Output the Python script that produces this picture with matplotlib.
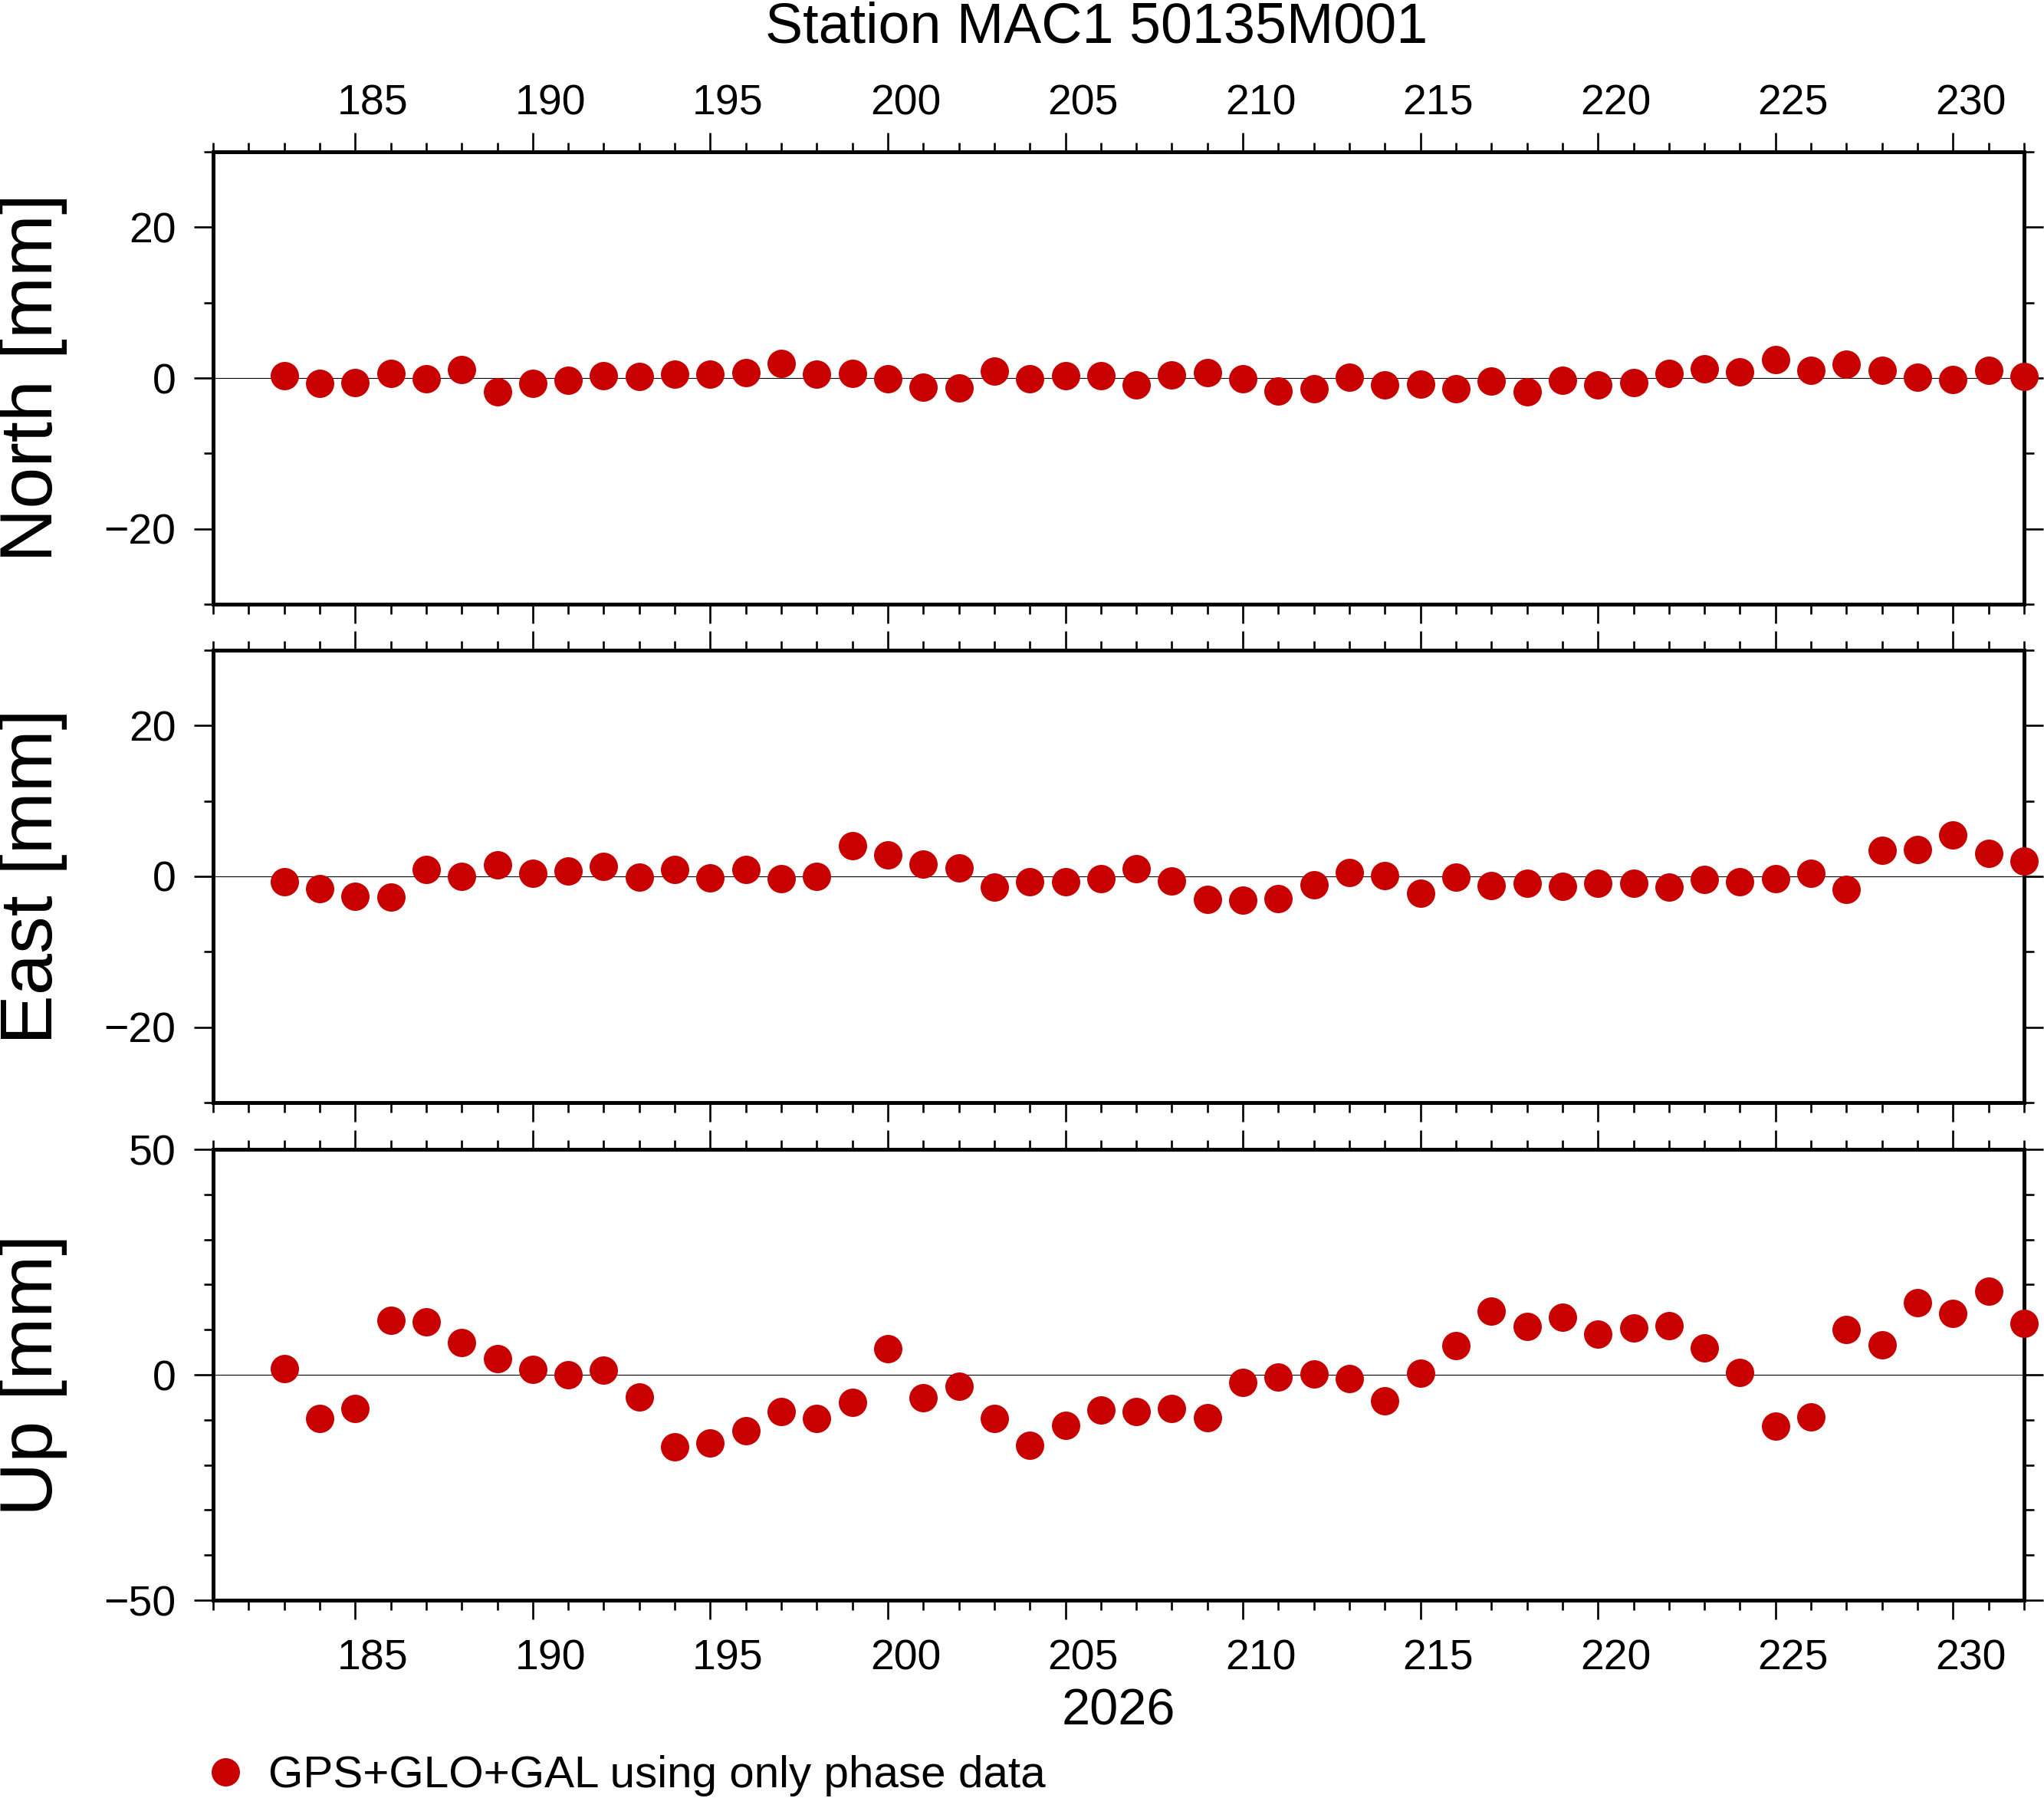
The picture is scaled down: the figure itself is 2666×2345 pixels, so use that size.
import matplotlib
matplotlib.use('Agg')
import matplotlib.pyplot as plt
from matplotlib.ticker import MultipleLocator, NullLocator

plt.rcParams['font.family'] = ['Liberation Sans', 'DejaVu Sans']

# ---------------- data ----------------
days = list(range(183, 233))
north = [0.27, -0.74, -0.64, 0.57, -0.14, 1.08, -1.86, -0.74, -0.34, 0.27,
         0.17, 0.47, 0.47, 0.68, 1.93, 0.47, 0.57, -0.14, -1.25, -1.35,
         0.88, -0.14, 0.27, 0.27,
         -0.95, 0.37, 0.68, -0.14, -1.76, -1.45, 0.07, -0.95, -0.84, -1.45,
         -0.44, -1.86, -0.34, -0.95, -0.64, 0.57, 1.18, 0.78, 2.40, 0.98,
         1.79, 0.98, 0.07, -0.24, 0.98, 0.24]
east = [-0.68, -1.62, -2.60, -2.77, 0.91, 0.00, 1.52, 0.41, 0.71, 1.35,
        -0.15, 0.96, -0.20, 0.96, -0.35, 0.00, 4.05, 2.84, 1.62, 1.11,
        -1.42, -0.71, -0.71, -0.30,
        1.01, -0.61, -3.04, -3.18, -2.97, -1.11, 0.51, 0.10, -2.23, -0.10,
        -1.22, -0.91, -1.32, -0.91, -0.91, -1.42, -0.41, -0.71, -0.30, 0.41,
        -1.72, 3.45, 3.55, 5.47, 3.04, 2.03]
up = [1.41, -9.77, -7.40, 12.09, 11.75, 7.18, 3.56, 1.24, 0.06, 1.07,
      -4.86, -16.05, -15.14, -12.49, -8.08, -9.77, -6.05, 5.82, -5.03, -2.49,
      -9.77, -15.70, -11.30, -7.74,
      -8.08, -7.40, -9.60, -1.64, -0.45, 0.23, -0.79, -5.71, 0.40, 6.50,
      14.12, 10.73, 12.77, 9.04, 10.40, 10.90, 5.99, 0.56, -11.47, -9.43,
      10.06, 6.67, 15.99, 13.62, 18.53, 11.41]

panel_names = ['North [mm]', 'East [mm]', 'Up [mm]']
panel_values = [north, east, up]
panel_limits = [30, 30, 50]
panel_major = [20, 20, 50]
panel_minor = [10, 10, 10]

x_range = (181, 232)
label_days = list(range(185, 231, 5))
year_label = '2026'
title = 'Station MAC1 50135M001'
legend_label = 'GPS+GLO+GAL using only phase data'
RED = '#C80000'

# ---------------- figure ----------------
W, H = 2666, 2345
DPI = 100
fig = plt.figure(figsize=(W / DPI, H / DPI), dpi=DPI)


def px_rect(left, top, right, bottom):
    return [left / W, 1 - bottom / H, (right - left) / W, (bottom - top) / H]


rects = [px_rect(278, 198, 2640, 788),
         px_rect(278, 848, 2640, 1438),
         px_rect(278, 1499, 2640, 2087)]

axes = []
handle = None
for i, (rect, name, vals, lim, maj, mnr) in enumerate(
        zip(rects, panel_names, panel_values, panel_limits, panel_major, panel_minor)):
    ax = fig.add_axes(rect)
    axes.append(ax)
    ax.set_xlim(*x_range)
    ax.set_ylim(-lim, lim)
    ax.axhline(0, color='black', lw=0.8, zorder=1)
    ln, = ax.plot(days, vals, 'o', ms=26.6, color=RED, mew=0,
                  clip_on=False, zorder=3, label=legend_label)
    handle = ln
    ax.xaxis.set_major_locator(MultipleLocator(5))
    ax.xaxis.set_minor_locator(MultipleLocator(1))
    ax.yaxis.set_major_locator(MultipleLocator(maj))
    ax.yaxis.set_minor_locator(MultipleLocator(mnr))
    for sp in ax.spines.values():
        sp.set_linewidth(3.6)
    ax.tick_params(which='both', direction='out', top=True, right=True,
                   bottom=True, left=True, labelbottom=False, labeltop=False,
                   width=1.9)
    ax.tick_params(which='major', length=18)
    ax.tick_params(which='minor', length=9)
    ax.tick_params(axis='y', which='major', labelsize=40, pad=17)
    ax.set_ylabel(name, fontsize=70, va='center')
    ax.yaxis.set_label_coords((43 - 278) / 2362, 0.5)

# interval-style x labels (centred on each labelled day)
def add_day_labels(ax, where, pad):
    sec = ax.secondary_xaxis(where)
    sec.set_xticks([d + 0.5 for d in label_days], labels=[str(d) for d in label_days])
    sec.xaxis.set_minor_locator(NullLocator())
    sec.tick_params(length=0, pad=pad, labelsize=40)
    for sp in sec.spines.values():
        sp.set_visible(False)
    return sec

add_day_labels(axes[0], 'top', 26)
add_day_labels(axes[2], 'bottom', 36)

axes[2].set_xlabel(year_label, fontsize=48)
axes[2].xaxis.set_label_coords(0.5, (2087 - 2202) / 588)

fig.text(1430 / W, 1 - 56 / H, title, ha='center', va='baseline', fontsize=53)

fig.legend(handles=[handle], labels=[legend_label], loc='center left',
           bbox_to_anchor=(265 / W, 1 - 2316 / H), frameon=False,
           borderpad=0, borderaxespad=0, handlelength=1.0, handletextpad=0.45,
           fontsize=42, numpoints=1)

fig.savefig('out.png', dpi=DPI)
